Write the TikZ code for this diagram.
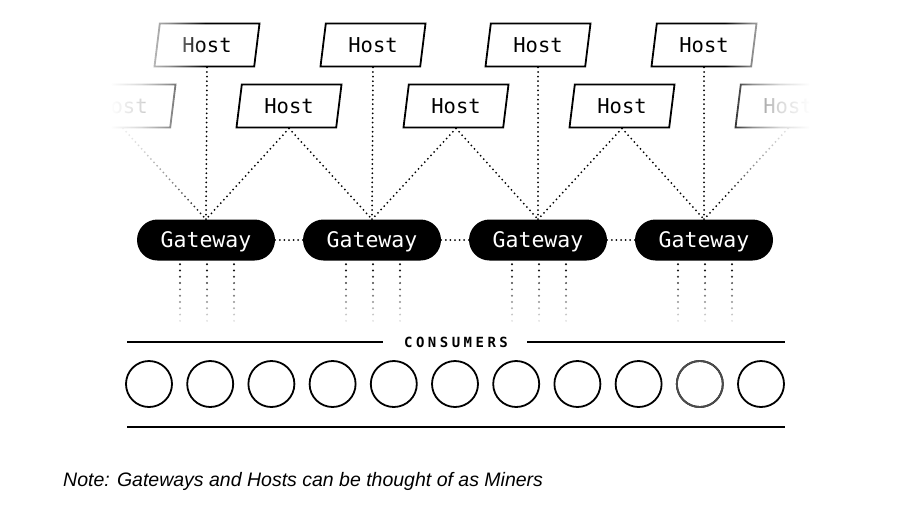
\documentclass[tikz,border=0pt]{standalone}
\usepackage{fontspec}
\setmainfont{Liberation Sans}
\newfontfamily\monofont{DejaVu Sans Mono}
\newfontfamily\capsfont[LetterSpace=25]{DejaVu Sans Mono}
\usetikzlibrary{shapes.geometric,fadings}

% white veils that fade the host layer at both sides
\pgfdeclarehorizontalshading{veilleftshading}{100bp}{%
  color(0bp)=(transparent!0); color(51.83bp)=(transparent!0);
  color(59.15bp)=(transparent!15); color(66.46bp)=(transparent!45);
  color(75bp)=(transparent!100); color(100bp)=(transparent!100)}
\pgfdeclarefading{veilleft}{\pgfuseshading{veilleftshading}}
\pgfdeclarehorizontalshading{veilrightshading}{100bp}{%
  color(0bp)=(transparent!100); color(27.43bp)=(transparent!100);
  color(33.98bp)=(transparent!45); color(40.78bp)=(transparent!15);
  color(48.06bp)=(transparent!0); color(100bp)=(transparent!0)}
\pgfdeclarefading{veilright}{\pgfuseshading{veilrightshading}}
% links under the gateways fade downwards
\pgfdeclareverticalshading{downfadeshading}{100bp}{%
  color(0bp)=(transparent!92); color(25bp)=(transparent!92);
  color(62bp)=(transparent!20); color(75bp)=(transparent!0);
  color(100bp)=(transparent!0)}
\pgfdeclarefading{downfade}{\pgfuseshading{downfadeshading}}

\tikzset{
  host/.style={trapezium, trapezium left angle=70.8, trapezium right angle=109.2,
    trapezium stretches body, draw, line width=1.8pt, minimum width=105pt,
    minimum height=43pt, inner sep=0pt, font=\monofont\fontsize{20.5}{24}\selectfont},
  gateway/.style={fill=black, text=white, rounded corners=20.5pt, minimum width=138pt,
    minimum height=41pt, inner sep=0pt, text height=15.7pt, text depth=0pt,
    font=\monofont\fontsize{21.5}{24}\selectfont},
  dots/.style={line width=2pt, line cap=round, dash pattern=on 0pt off 4.6pt},
  downdots/.style={dots, line width=2.2pt, dash pattern=on 0pt off 6.3pt,
    path fading=downfade},
  consumer/.style={circle, draw, line width=1.8pt, minimum size=46pt, inner sep=0pt},
  rule/.style={line width=1.8pt},
}

\begin{document}
\begin{tikzpicture}[x=1pt, y=-1pt]
	\useasboundingbox (0,0) rectangle (921,504);
	
	%gateways
	\foreach \i/\gx in {1/206, 2/372, 3/538, 4/704}
		\node[gateway] (g\i) at (\gx,240) {Gateway};
	\foreach \i/\j in {1/2, 2/3, 3/4}
		\draw[dots] (g\i) -- (g\j);
	
	%hosts
	\foreach \i/\hx in {1/207, 2/373, 3/538, 4/704}
		\node[host] (top\i) at (\hx,45) {Host};
	\foreach \i/\hx in {0/123, 1/289, 2/456, 3/622, 4/788}
		\node[host] (low\i) at (\hx,106) {Host};
	\foreach \i in {1,...,4}
		\draw[dots] (top\i.south) -- (g\i.north);
	\foreach \h/\g in {0/1, 1/1, 1/2, 2/2, 2/3, 3/3, 3/4, 4/4}
		\draw[dots] (low\h.south) -- (g\g.north);
	
	%fade the hosts out at both sides
	\fill[white, path fading=veilleft] (0,0) rectangle (205,217);
	\fill[white, path fading=veilright] (715,0) rectangle (921,217);
	
	%links down to the consumers
	\foreach \i in {1,...,4}
		\draw[downdots]
			([xshift=-26pt, yshift=-3.5pt]g\i.south) -- ++(0,57)
			([xshift=1pt, yshift=-3.5pt]g\i.south) -- ++(0,57)
			([xshift=28pt, yshift=-3.5pt]g\i.south) -- ++(0,57);
	
	%consumers
	\node[font=\capsfont\bfseries\fontsize{14}{16}\selectfont] (cons) at (456,342) {CONSUMERS};
	\draw[rule] (127,342) -- (383,342) (527,342) -- (785,342);
	\foreach \k in {0,...,10}
		\node[consumer] (c\k) at (149+61.2*\k,384) {};
	\node[consumer, draw=black!70] at (c9) {};
	\draw[rule] (127,427) -- (785,427);
	
	%note
	\node[anchor=base west, inner sep=0pt, font=\itshape\fontsize{19.5}{22}\selectfont] (note) at (63,486)
		{Note: Gateways and Hosts can be thought of as Miners};
\end{tikzpicture}
\end{document}
